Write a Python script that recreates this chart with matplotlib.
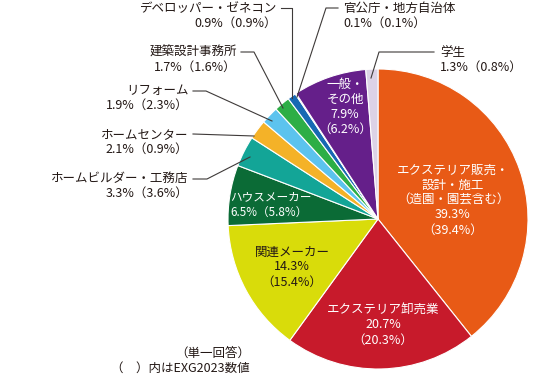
import matplotlib
matplotlib.use('Agg')
import matplotlib.pyplot as plt

plt.rcParams['font.family'] = ['Noto Sans CJK JP', 'DejaVu Sans']

# 回答者の業種（単一回答）
labels = ['エクステリア販売・\n設計・施工\n（造園・園芸含む）', 'エクステリア卸売業', '関連メーカー',
          'ハウスメーカー', 'ホームビルダー・工務店', 'ホームセンター', 'リフォーム',
          '建築設計事務所', 'デベロッパー・ゼネコン', '官公庁・地方自治体', '一般・\nその他', '学生']
values = [39.3, 20.7, 14.3, 6.5, 3.3, 2.1, 1.9, 1.7, 0.9, 0.1, 7.9, 1.3]
values_prev = [39.4, 20.3, 15.4, 5.8, 3.6, 0.9, 2.3, 1.6, 0.9, 0.1, 6.2, 0.8]
colors = ['#E85A16', '#C71A2B', '#D9DC0A', '#0B6B36', '#13A597', '#F4B228',
          '#5CC3EE', '#2DAE46', '#1769B3', '#1769B3', '#651F8A', '#DCD2E6']

W, H = 535, 379
TXT = '#231815'
FS = 9
LS = 1.2


def Y(y):
    return H - y


fig = plt.figure(figsize=(W / 100, H / 100), dpi=100)
ax = fig.add_axes([0, 0, 1, 1])
ax.pie(values, colors=colors, startangle=90, counterclock=False,
       center=(378, Y(219)), radius=150,
       wedgeprops=dict(edgecolor='white', linewidth=0.8))
ax.set_xlim(0, W)
ax.set_ylim(0, H)
ax.set_aspect('equal')
ax.axis('off')


def pct(i):
    return f'{values[i]}%（{values_prev[i]}%）'


# 円の中のラベル
ax.text(453, Y(200), labels[0] + f'\n{values[0]}%\n（{values_prev[0]}%）', color='white',
        fontsize=FS, ha='center', va='center', linespacing=LS)
ax.text(383, Y(325), labels[1] + f'\n{values[1]}%\n（{values_prev[1]}%）', color='white',
        fontsize=FS, ha='center', va='center', linespacing=LS)
ax.text(292, Y(267), labels[2] + f'\n{values[2]}%\n（{values_prev[2]}%）', color=TXT,
        fontsize=FS, ha='center', va='center', linespacing=LS)
ax.text(230, Y(205), labels[3] + '\n' + pct(3), color='white',
        fontsize=8.4, ha='left', va='center', linespacing=1.3)
ax.text(345, Y(107), labels[10] + f'\n{values[10]}%\n（{values_prev[10]}%）', color='white',
        fontsize=FS, ha='center', va='center', linespacing=LS)

# 引き出し線つきのラベル (text x, text y, ha, line points)
outer = {
    4: (188, 186, 'right', [(193, 179), (207, 179), (250, 157)]),
    5: (188, 142, 'right', [(193, 134), (254, 136)]),
    6: (189, 98, 'right', [(193, 91), (206, 91), (272, 121)]),
    7: (237, 60, 'right', [(241, 52), (254, 52), (283, 108)]),
    8: (277, 16, 'right', [(281, 8), (292, 8), (292, 98)]),
    9: (343, 16, 'left', [(338, 8), (326, 8), (297, 97)]),
    11: (440, 60, 'left', [(434, 52), (379, 52), (371, 78)]),
}
for i, (tx, ty, ha, pts) in outer.items():
    ax.text(tx, Y(ty), labels[i] + '\n' + pct(i), color=TXT, fontsize=FS,
            ha=ha, va='center', linespacing=LS)
    ax.plot([p[0] for p in pts], [Y(p[1]) for p in pts], color='#3E3A39', lw=0.8)

ax.text(250, Y(361), '（単一回答）\n（　）内はEXG2023数値', color=TXT, fontsize=FS,
        ha='right', va='center', linespacing=LS)

fig.savefig('out.png', dpi=100)
